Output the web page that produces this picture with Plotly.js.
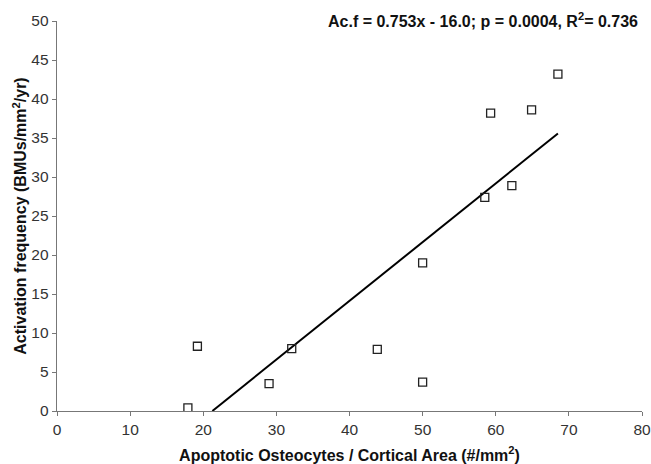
<!DOCTYPE html>
<html>
<head>
<meta charset="utf-8">
<script src="https://cdn.plot.ly/plotly-3.0.1.min.js"></script>
<style>html,body{margin:0;padding:0;background:#fff;}#chart{width:651px;height:464px;}</style>
</head>
<body>
<div id="chart"></div>
<script>
// Data
const apoptoticOsteocytes = [17.9, 19.2, 29.0, 32.1, 43.8, 50.0, 50.0, 58.5, 59.3, 62.2, 64.9, 68.5];
const activationFrequency = [0.4, 8.3, 3.5, 8.0, 7.9, 3.7, 19.0, 27.4, 38.2, 28.9, 38.6, 43.2];
const slope = 0.753;
const intercept = -16.0;
const fitX = [-intercept / slope, 68.5];
const fitY = fitX.map(x => slope * x + intercept);
const xTicks = [0, 10, 20, 30, 40, 50, 60, 70, 80];
const yTicks = [0, 5, 10, 15, 20, 25, 30, 35, 40, 45, 50];
const annotationText = 'Ac.f = 0.753x - 16.0; p = 0.0004, R<sup>2</sup>= 0.736';

const font = 'Liberation Sans, Arial, sans-serif';

const traces = [
  {
    x: fitX, y: fitY, mode: 'lines', type: 'scatter',
    line: {color: '#000', width: 2}, hoverinfo: 'skip', showlegend: false
  },
  {
    x: apoptoticOsteocytes, y: activationFrequency, mode: 'markers', type: 'scatter',
    marker: {symbol: 'square-open', size: 8, color: '#222', line: {width: 1.3, color: '#222'}},
    showlegend: false
  }
];

const layout = {
  width: 651, height: 464,
  margin: {l: 57, r: 9, t: 21, b: 53},
  paper_bgcolor: '#fff', plot_bgcolor: '#fff',
  font: {family: font, color: '#333', size: 15},
  xaxis: {
    range: [0, 80], tickvals: xTicks, ticktext: xTicks.map(String),
    showgrid: false, zeroline: false, showline: true, linecolor: '#777', linewidth: 1.3,
    ticks: 'outside', ticklen: 4, tickcolor: '#777', tickwidth: 1,
    tickfont: {size: 15.5, color: '#333'},
    title: {text: 'Apoptotic Osteocytes / Cortical Area (#/mm<sup>2</sup>)', font: {size: 16, color: '#111', weight: 'bold'}, standoff: 13}
  },
  yaxis: {
    range: [0, 50], tickvals: yTicks, ticktext: yTicks.map(String),
    showgrid: false, zeroline: false, showline: true, linecolor: '#777', linewidth: 1.3,
    ticks: 'outside', ticklen: 4, tickcolor: '#777', tickwidth: 1,
    tickfont: {size: 15.5, color: '#333'},
    title: {text: 'Activation frequency (BMUs/mm<sup>2</sup>/yr)', font: {size: 16, color: '#111', weight: 'bold'}, standoff: 0}
  },
  annotations: [{
    xref: 'paper', yref: 'paper', x: 1, y: 1.0, xanchor: 'right', yanchor: 'middle',
    xshift: -2, yshift: 1,
    text: annotationText, showarrow: false,
    font: {size: 16, color: '#111', family: font, weight: 'bold'}
  }]
};

Plotly.newPlot('chart', traces, layout, {staticPlot: true, displayModeBar: false});
</script>
</body>
</html>
